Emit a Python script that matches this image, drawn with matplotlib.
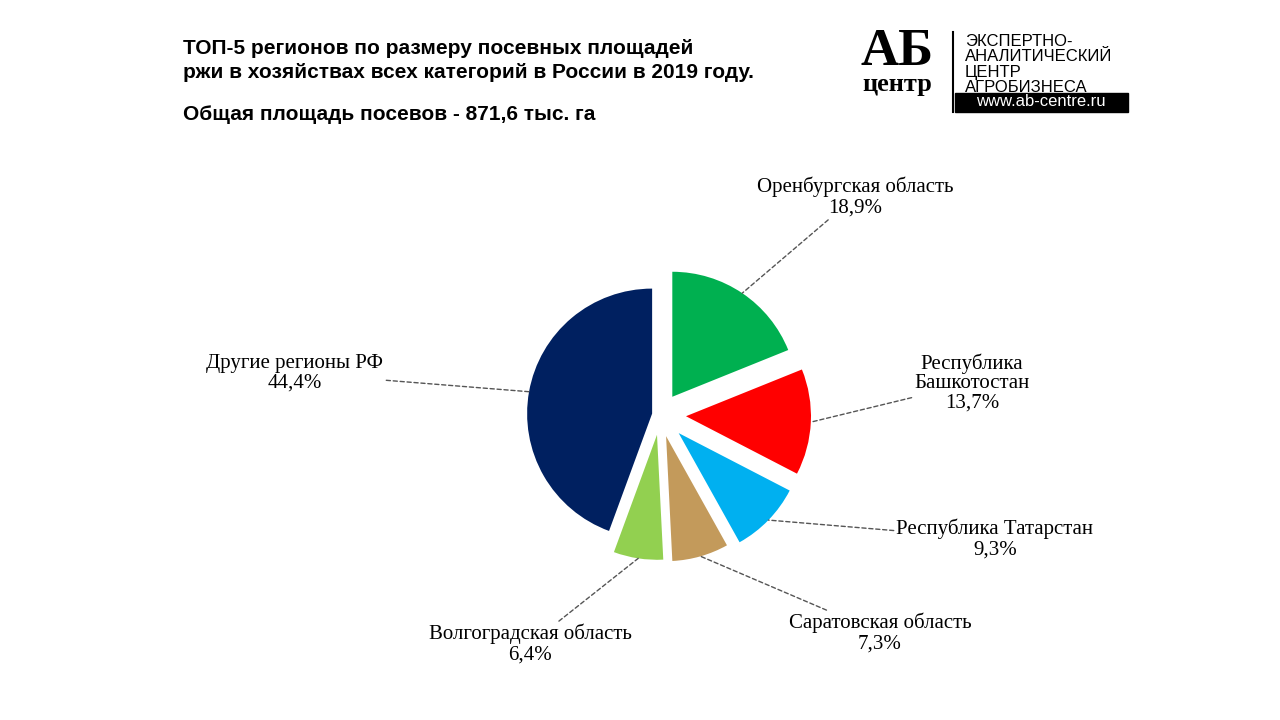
import matplotlib
matplotlib.use("Agg")
import matplotlib.pyplot as plt
import numpy as np
from matplotlib.patches import Rectangle

labels = ["Оренбургская область", "Республика\nБашкотостан", "Республика Татарстан",
          "Саратовская область", "Волгоградская область", "Другие регионы РФ"]
values = [18.9, 13.7, 9.3, 7.3, 6.4, 44.4]
colors = ["#00B050", "#FF0000", "#00B0F0", "#C39A5B", "#92D050", "#002060"]
explode = [22, 26, 26, 22, 20, 8]
label_pos = [(855, 523), (972, 337), (995, 181), (880, 87), (530, 76), (295, 347)]

fig = plt.figure(figsize=(12.8, 7.2), dpi=100)
ax = fig.add_axes([0, 0, 1, 1])

wedges, _ = ax.pie(values, colors=colors, explode=explode, startangle=90, counterclock=False,
                   center=(660, 305), radius=125, wedgeprops=dict(linewidth=0))
ax.set_xlim(0, 1280); ax.set_ylim(0, 720); ax.set_aspect("equal"); ax.axis("off")
serif = "Liberation Serif"
for w, lab, v, (lx, ly) in zip(wedges, labels, values, label_pos):
    ang = np.deg2rad((w.theta1 + w.theta2) / 2)
    cx, cy = w.center
    ex, ey = cx + w.r * np.cos(ang), cy + w.r * np.sin(ang)
    txt = f"{lab}\n{v:.1f}%".replace(".", ",")
    ax.annotate(txt, xy=(ex, ey), xytext=(lx, ly), ha="center", va="center",
                fontsize=15, family=serif, linespacing=1.05,
                arrowprops=dict(arrowstyle="-", linestyle=(0, (3, 2)), color="#555555", lw=1,
                                shrinkA=0, shrinkB=0, relpos=(0.5, 0.5)))

sans = "Liberation Sans"
fig.text(183/1280, 1-48/720, "ТОП-5 регионов по размеру посевных площадей", fontsize=15, weight="bold", family=sans, va="center")
fig.text(183/1280, 1-72/720, "ржи в хозяйствах всех категорий в России в 2019 году.", fontsize=15, weight="bold", family=sans, va="center")
fig.text(183/1280, 1-115/720, "Общая площадь посевов - 871,6 тыс. га", fontsize=15, weight="bold", family=sans, va="center")

# logo
fig.text(897/1280, 1-52/720, "АБ", fontsize=38, weight="bold", family=serif, ha="center", va="center")
fig.text(897/1280, 1-85/720, "центр", fontsize=19, weight="bold", family=serif, ha="center", va="center")
ax.plot([953, 953], [720-32, 720-112], color="black", lw=1.5)
for i, t in enumerate(["ЭКСПЕРТНО-", "АНАЛИТИЧЕСКИЙ", "ЦЕНТР", "АГРОБИЗНЕСА"]):
    fig.text(965/1280, 1-(41+i*15.5)/720, t, fontsize=12, family=sans, va="center")
ax.add_patch(Rectangle((955, 720-112), 173, 19, color="black"))
fig.text(1041/1280, 1-102/720, "www.ab-centre.ru", fontsize=12, family=sans, color="white", ha="center", va="center")

fig.savefig("out.png", dpi=100, facecolor="white")
